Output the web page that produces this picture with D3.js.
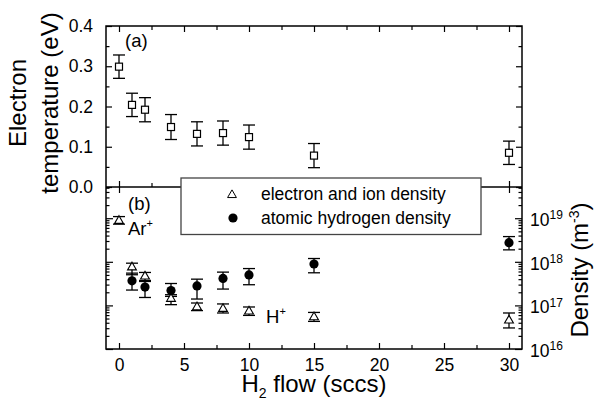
<!DOCTYPE html>
<html>
<head>
<meta charset="utf-8">
<script src="https://d3js.org/d3.v7.min.js"></script>
<style>
  html, body { margin: 0; padding: 0; background: #fff; }
  svg { display: block; font-family: "Liberation Sans", Arial, sans-serif; }
</style>
</head>
<body>
<svg id="chart" width="595" height="398"></svg>
<script>
// H2 flow settings (sccs)
const flow = [0, 1, 2, 4, 6, 8, 10, 15, 30];

// (a) electron temperature (eV) with error half-widths
const teFlow = [0, 1, 2, 4, 6, 8, 10, 15, 30];
const teValue = [0.299, 0.204, 0.192, 0.149, 0.132, 0.134, 0.124, 0.078, 0.085];
const teErr = [0.029, 0.029, 0.030, 0.031, 0.030, 0.030, 0.030, 0.030, 0.029];

// (b) electron and ion density (m^-3) with lower / upper error limits
const neFlow = [0, 1, 2, 4, 6, 8, 10, 15, 30];
const neValue = [9.1e18, 7.8e17, 4.8e17, 1.48e17, 9.5e16, 8.7e16, 7.6e16, 5.6e16, 4.7e16];
const neLow = [7.3e18, 5.05e17, 3.54e17, 1.04e17, 7.6e16, 6.7e16, 5.9e16, 4.3e16, 3.04e16];
const neHigh = [1.09e19, 9.3e17, 5.7e17, 1.76e17, 1.135e17, 1.08e17, 9.2e16, 6.9e16, 6.7e16];

// (b) atomic hydrogen density (m^-3) with lower / upper error limits
const hFlow = [1, 2, 4, 6, 8, 10, 15, 30];
const hValue = [3.67e17, 2.63e17, 2.2e17, 2.8e17, 4.15e17, 5.0e17, 8.9e17, 2.75e18];
const hLow = [2.25e17, 1.52e17, 1.61e17, 1.4e17, 2.37e17, 2.98e17, 5.6e17, 1.88e18];
const hHigh = [5.5e17, 3.73e17, 3.18e17, 4.0e17, 5.8e17, 7.0e17, 1.19e18, 3.79e18];

// Axis ticks
const xTicks = [0, 5, 10, 15, 20, 25, 30];
const xMinor = [2.5, 7.5, 12.5, 17.5, 22.5, 27.5];
const teTicks = [0.0, 0.1, 0.2, 0.3, 0.4];
const teMinor = [0.05, 0.15, 0.25, 0.35];
const denTicks = [1e16, 1e17, 1e18, 1e19];

const legendLabels = ["electron and ion density", "atomic hydrogen density"];

const svg = d3.select("#chart");

const plotLeft = 106, plotRight = 522, plotTop = 26, plotMid = 187, plotBottom = 349;

const x = d3.scaleLinear().domain([-1, 31]).range([plotLeft, plotRight]);
const yTe = d3.scaleLinear().domain([0, 0.4]).range([plotMid, plotTop]);
const yDen = d3.scaleLog().domain([1e16, 5.2e19]).range([plotBottom, plotMid]);

// minor ticks for the log axis: 2..9 in every decade
const denMinor = [];
for (let e = 16; e <= 19; e++) {
  for (let m = 2; m <= 9; m++) {
    const v = m * Math.pow(10, e);
    if (v < 5.2e19) denMinor.push(v);
  }
}

function styleAxis(g) {
  g.selectAll(".domain").remove();
  g.selectAll(".tick line").attr("stroke", "#000").attr("stroke-width", 1.2);
  g.selectAll(".tick text").attr("fill", "#000");
}

function addAxis(axis, tx, ty) {
  const g = svg.append("g").attr("transform", `translate(${tx},${ty})`).call(axis);
  styleAxis(g);
  return g;
}

const noLabel = () => "";

// ---------- panel (a) axes ----------
addAxis(d3.axisLeft(yTe).tickValues(teTicks).tickSize(-6).tickPadding(13)
  .tickFormat(d3.format(".1f")), plotLeft, 0)
  .selectAll("text").attr("font-size", 17.5);
addAxis(d3.axisLeft(yTe).tickValues(teMinor).tickSize(-3.5).tickFormat(noLabel), plotLeft, 0);
addAxis(d3.axisRight(yTe).tickValues(teTicks).tickSize(-6).tickFormat(noLabel), plotRight, 0);
addAxis(d3.axisRight(yTe).tickValues(teMinor).tickSize(-3.5).tickFormat(noLabel), plotRight, 0);
addAxis(d3.axisTop(x).tickValues(xTicks).tickSize(-6).tickFormat(noLabel), 0, plotTop);
addAxis(d3.axisTop(x).tickValues(xMinor).tickSize(-4).tickFormat(noLabel), 0, plotTop);
addAxis(d3.axisBottom(x).tickValues(xTicks).tickSize(-6).tickFormat(noLabel), 0, plotMid);
addAxis(d3.axisBottom(x).tickValues(xMinor).tickSize(-4).tickFormat(noLabel), 0, plotMid);

// ---------- panel (b) axes ----------
addAxis(d3.axisLeft(yDen).tickValues(denTicks).tickSize(-7).tickFormat(noLabel), plotLeft, 0);
addAxis(d3.axisLeft(yDen).tickValues(denMinor).tickSize(-3.5).tickFormat(noLabel), plotLeft, 0);
const rightDen = addAxis(d3.axisRight(yDen).tickValues(denTicks).tickSize(-7)
  .tickFormat(noLabel), plotRight, 0);
addAxis(d3.axisRight(yDen).tickValues(denMinor).tickSize(-3.5).tickFormat(noLabel), plotRight, 0);
addAxis(d3.axisTop(x).tickValues(xTicks).tickSize(-6).tickFormat(noLabel), 0, plotMid);
const xAxisBottom = addAxis(d3.axisBottom(x).tickValues(xTicks).tickSize(-6).tickPadding(10)
  .tickFormat(d3.format("d")), 0, plotBottom);
xAxisBottom.selectAll("text").attr("font-size", 17.5);
addAxis(d3.axisBottom(x).tickValues(xMinor).tickSize(-4).tickFormat(noLabel), 0, plotBottom);

// power-of-ten labels on the right density axis
rightDen.selectAll(".tick").each(function(d) {
  const t = d3.select(this).append("text")
    .attr("x", 8).attr("dy", "0.42em")
    .attr("font-size", 17.5).attr("fill", "#000").attr("text-anchor", "start");
  t.append("tspan").text("10");
  t.append("tspan").attr("dy", "-0.55em").attr("font-size", 12)
    .text(Math.round(Math.log10(d)));
});

// ---------- frames ----------
svg.append("rect").attr("x", plotLeft).attr("y", plotTop)
  .attr("width", plotRight - plotLeft).attr("height", plotBottom - plotTop)
  .attr("fill", "none").attr("stroke", "#000").attr("stroke-width", 1.5);
svg.append("line").attr("x1", plotLeft).attr("x2", plotRight).attr("y1", plotMid).attr("y2", plotMid)
  .attr("stroke", "#000").attr("stroke-width", 1.5);

// ---------- error bars ----------
function errorBars(xs, lows, highs, yScale, color) {
  const g = svg.append("g").attr("stroke", color).attr("stroke-width", 1.3).attr("fill", "none");
  xs.forEach((xv, i) => {
    const cx = x(xv), y1 = yScale(lows[i]), y2 = yScale(highs[i]);
    g.append("line").attr("x1", cx).attr("x2", cx).attr("y1", y1).attr("y2", y2);
    g.append("line").attr("x1", cx - 6).attr("x2", cx + 6).attr("y1", y1).attr("y2", y1);
    g.append("line").attr("x1", cx - 6).attr("x2", cx + 6).attr("y1", y2).attr("y2", y2);
  });
}

// (a) electron temperature
errorBars(teFlow, teValue.map((v, i) => v - teErr[i]), teValue.map((v, i) => v + teErr[i]), yTe, "#000");
svg.append("g").selectAll("rect").data(teFlow).join("rect")
  .attr("x", d => x(d) - 3.5)
  .attr("y", (d, i) => yTe(teValue[i]) - 3.5)
  .attr("width", 7).attr("height", 7)
  .attr("fill", "#fff").attr("stroke", "#000").attr("stroke-width", 1.2);

// (b) densities
errorBars(hFlow, hLow, hHigh, yDen, "#000");
errorBars(neFlow, neLow, neHigh, yDen, "#000");

const triangle = d3.symbol().type(d3.symbolTriangle).size(34);
svg.append("g").selectAll("path").data(neFlow).join("path")
  .attr("d", triangle)
  .attr("transform", (d, i) => `translate(${x(d)},${yDen(neValue[i]) + 0.8})`)
  .attr("fill", "#fff").attr("stroke", "#000").attr("stroke-width", 1.1);

svg.append("g").selectAll("circle").data(hFlow).join("circle")
  .attr("cx", d => x(d))
  .attr("cy", (d, i) => yDen(hValue[i]))
  .attr("r", 4.6).attr("fill", "#000");

// ---------- legend ----------
const lg = svg.append("g");
lg.append("rect").attr("x", 181).attr("y", 178).attr("width", 300).attr("height", 56.5)
  .attr("fill", "#fff").attr("stroke", "#444").attr("stroke-width", 1.3);
lg.append("path").attr("d", triangle)
  .attr("transform", "translate(232,195)")
  .attr("fill", "#fff").attr("stroke", "#000").attr("stroke-width", 1);
lg.append("circle").attr("cx", 233).attr("cy", 218).attr("r", 4.6).attr("fill", "#000");
lg.selectAll("text").data(legendLabels).join("text")
  .attr("x", 261).attr("y", (d, i) => 200 + i * 24)
  .attr("font-size", 17.5).attr("fill", "#000").text(d => d);

// ---------- panel annotations ----------
svg.append("text").attr("x", 125).attr("y", 47).attr("font-size", 18.5).text("(a)");
svg.append("text").attr("x", 128).attr("y", 210).attr("font-size", 18.5).text("(b)");

const ar = svg.append("text").attr("x", 128).attr("y", 235).attr("font-size", 18.5);
ar.append("tspan").text("Ar");
ar.append("tspan").attr("dy", -8).attr("font-size", 11).text("+");

const hp = svg.append("text").attr("x", 266).attr("y", 323).attr("font-size", 18.5);
hp.append("tspan").text("H");
hp.append("tspan").attr("dy", -8).attr("font-size", 11).text("+");

// ---------- axis titles ----------
const yTitle = svg.append("text")
  .attr("transform", "translate(0,103) rotate(-90)")
  .attr("text-anchor", "middle").attr("font-size", 24);
yTitle.append("tspan").attr("x", 0).attr("y", 26).text("Electron");
yTitle.append("tspan").attr("x", 0).attr("y", 58).text("temperature (eV)");

const xTitle = svg.append("text")
  .attr("x", 314).attr("y", 392).attr("text-anchor", "middle").attr("font-size", 24);
xTitle.append("tspan").text("H");
xTitle.append("tspan").attr("dy", 6).attr("font-size", 14).text("2");
xTitle.append("tspan").attr("dy", -6).text(" flow (sccs)");

const rTitle = svg.append("text")
  .attr("transform", "translate(588,270) rotate(-90)")
  .attr("text-anchor", "middle").attr("font-size", 24);
rTitle.append("tspan").text("Density (m");
rTitle.append("tspan").attr("dy", -9).attr("font-size", 14).text("-3");
rTitle.append("tspan").attr("dy", 9).text(")");
</script>
</body>
</html>
